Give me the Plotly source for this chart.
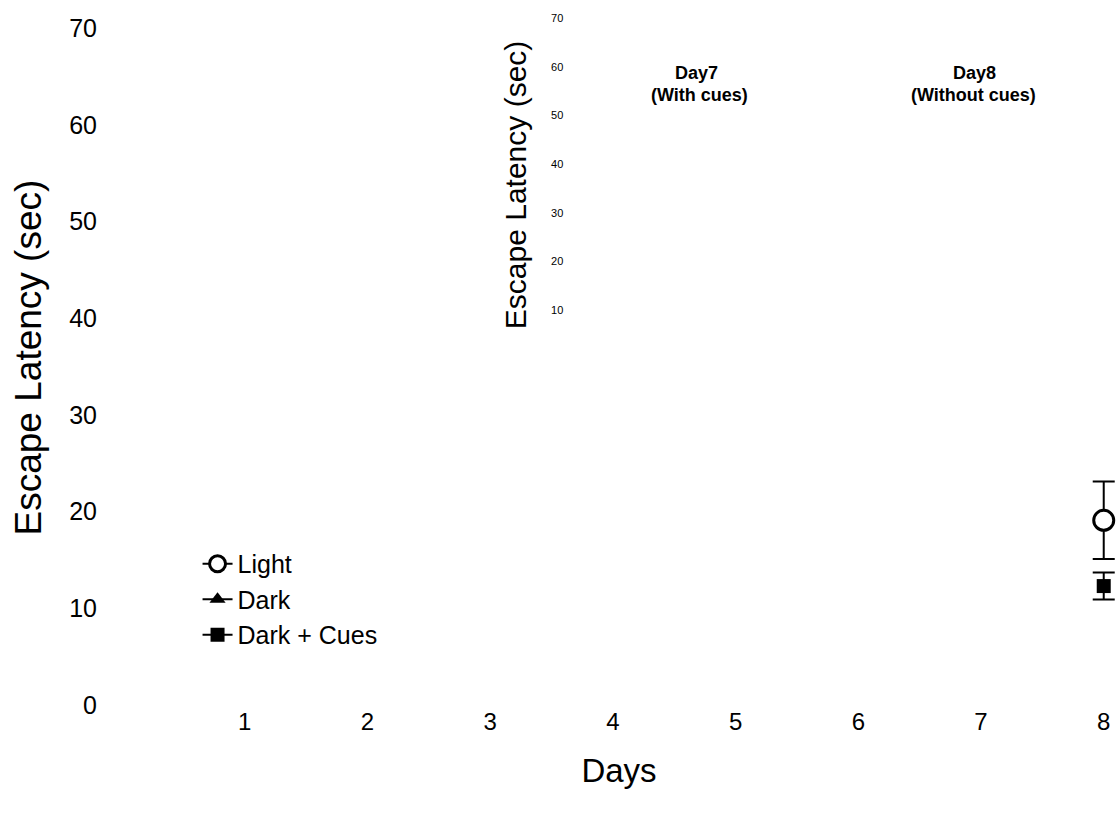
import plotly.graph_objects as go

# Data (only day 8 is visible)
days = [1, 2, 3, 4, 5, 6, 7, 8]
light_y = [None, None, None, None, None, None, None, 19.1]
light_err = [None, None, None, None, None, None, None, 4.0]
dark_y = [None, None, None, None, None, None, None, None]
dark_err = [None, None, None, None, None, None, None, None]
cues_y = [None, None, None, None, None, None, None, 12.3]
cues_err = [None, None, None, None, None, None, None, 1.4]

x_ticks = [1, 2, 3, 4, 5, 6, 7, 8]
y_ticks = [0, 10, 20, 30, 40, 50, 60, 70]
inset_ticks = [10, 20, 30, 40, 50, 60, 70]

FONT = "Liberation Sans, Arial, Helvetica, sans-serif"
NARROW = "Liberation Sans Narrow, Arial Narrow, Liberation Sans, Arial, sans-serif"

fig = go.Figure()
fig.add_trace(go.Scatter(
    x=days, y=light_y, name="Light", mode="lines+markers",
    line=dict(color="black", width=2),
    marker=dict(symbol="circle", size=20, color="white", line=dict(color="black", width=3)),
    error_y=dict(type="data", array=light_err, color="black", thickness=2, width=11),
    cliponaxis=False,
))
fig.add_trace(go.Scatter(
    x=days, y=dark_y, name="Dark", mode="lines+markers",
    line=dict(color="black", width=2),
    marker=dict(symbol="triangle-up", size=14, color="black"),
    error_y=dict(type="data", array=dark_err, color="black", thickness=2, width=11),
    cliponaxis=False,
))
fig.add_trace(go.Scatter(
    x=days, y=cues_y, name="Dark + Cues", mode="lines+markers",
    line=dict(color="black", width=2),
    marker=dict(symbol="square", size=14, color="black"),
    error_y=dict(type="data", array=cues_err, color="black", thickness=2, width=11),
    cliponaxis=False,
))

# invisible trace on the inset axis so it is drawn
fig.add_trace(go.Scatter(x=[None], y=[None], xaxis="x", yaxis="y2",
                         showlegend=False, hoverinfo="skip"))

ann_font = dict(family=FONT, size=18, color="black")
fig.add_annotation(x=4.68, y=65.4, xref="x", yref="y", text="<b>Day7</b>",
                   showarrow=False, font=ann_font)
fig.add_annotation(x=4.71, y=63.05, xref="x", yref="y", text="<b>(With cues)</b>",
                   showarrow=False, font=ann_font)
fig.add_annotation(x=6.95, y=65.4, xref="x", yref="y", text="<b>Day8</b>",
                   showarrow=False, font=ann_font)
fig.add_annotation(x=6.94, y=63.05, xref="x", yref="y", text="<b>(Without cues)</b>",
                   showarrow=False, font=ann_font)

# main y-axis title
fig.add_annotation(x=-0.0936, y=0.50, xref="paper", yref="paper", text="Escape Latency (sec)",
                   textangle=-90, showarrow=False, xanchor="center", yanchor="middle",
                   font=dict(family=FONT, size=37, color="black"))
# inset y-axis title
fig.add_annotation(x=0.3954, y=0.748, xref="paper", yref="paper", text="Escape Latency (sec)",
                   textangle=-90, showarrow=False, xanchor="center", yanchor="middle",
                   font=dict(family=FONT, size=30, color="black"))

fig.update_layout(
    width=1117, height=819,
    margin=dict(l=122, r=1, t=10, b=114),
    paper_bgcolor="white", plot_bgcolor="white",
    font=dict(family=FONT, color="black"),
    showlegend=True,
    legend=dict(x=0.076, y=0.236, xanchor="left", yanchor="top",
                font=dict(family=FONT, size=25, color="black"),
                bgcolor="rgba(0,0,0,0)", tracegroupgap=0),
    xaxis=dict(range=[0, 8.1], tickvals=x_ticks, showgrid=False, zeroline=False,
               showline=False, ticks="", tickfont=dict(family=NARROW, size=24),
               title=dict(text="Days", font=dict(family=NARROW, size=33), standoff=24)),
    yaxis=dict(range=[0, 71.87], tickvals=y_ticks, showgrid=False, zeroline=False,
               showline=False, ticks="", ticklabelstandoff=24,
               tickfont=dict(family=FONT, size=25)),
    yaxis2=dict(range=[0, 71.66], domain=[0.4978, 1.0], anchor="free", position=0.444,
                tickvals=inset_ticks, showgrid=False, zeroline=False,
                showline=False, ticks="", tickfont=dict(family=FONT, size=11, color="black")),
)

fig.write_html("out.html")
